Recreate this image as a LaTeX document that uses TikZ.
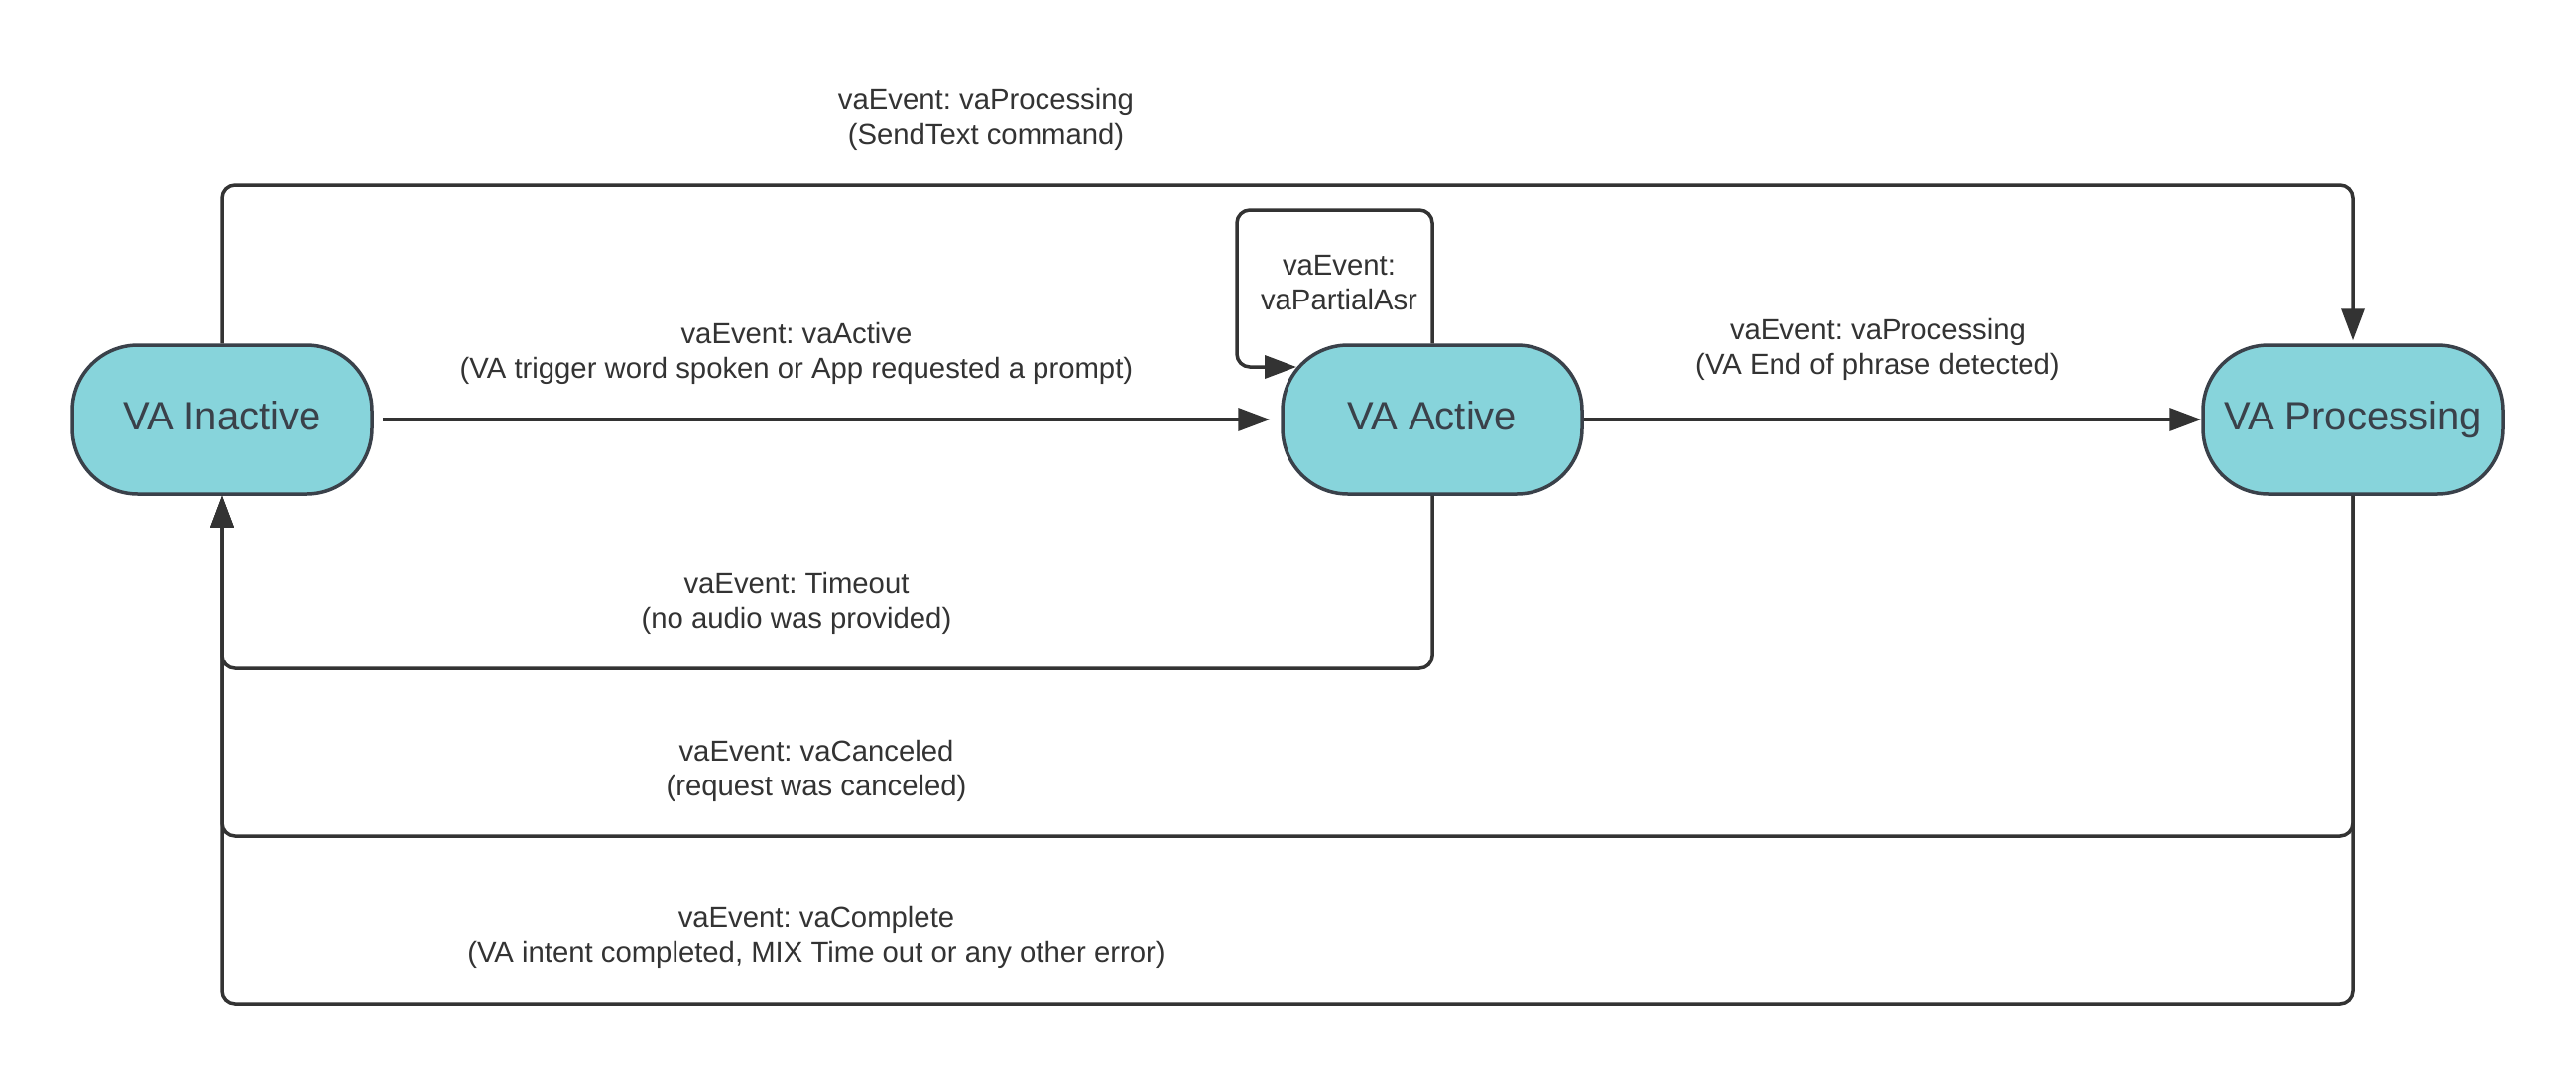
\documentclass[tikz,border=0pt]{standalone}
\usepackage{fontspec}
\setmainfont{Liberation Sans}
\usetikzlibrary{arrows.meta}
\definecolor{nodefill}{HTML}{87D4DB}
\definecolor{nodeline}{HTML}{3A414A}
\definecolor{wire}{HTML}{333333}
\definecolor{ink}{HTML}{333333}
\frenchspacing
\tikzset{
  state/.style={draw=nodeline, fill=nodefill, line width=3.5pt, rectangle, rounded corners=66pt,
    minimum width=302pt, minimum height=150pt, inner sep=0pt, text=nodeline,
    font=\fontsize{40}{48}\selectfont, text height=29pt, text depth=8pt},
  conn/.style={draw=wire, line width=3.5pt, rounded corners=13pt,
    -{Triangle[length=32pt,width=23pt]}},
  lbl/.style={align=center, text=ink, font=\fontsize{29.3}{35}\selectfont, inner sep=0pt}
}
\begin{document}
\begin{tikzpicture}[x=1pt,y=-1pt]
\useasboundingbox (0,0) rectangle (2597,1088);
\fill[white] (0,0) rectangle (2597,1088);
\node[state] (inact) at (224,423) {VA Inactive};
\node[state] (act) at (1444,423) {VA Active};
\node[state] (proc) at (2372,423) {VA Processing};

\coordinate (toprow) at (0,187);
\coordinate (loopTL) at (1247,212);
\coordinate (loopin) at (1307,370);
\coordinate (tmo) at (0,674);
\coordinate (cnc) at (0,843);
\coordinate (cmp) at (0,1012);

% top: Inactive -> Processing
\draw[conn, shorten >=3pt] (inact.north) -- (inact.north |- toprow) -- (proc.north |- toprow) -- (proc.north);
% Inactive -> Active
\draw[conn, shorten <=9pt, shorten >=11pt] (inact.east) -- (act.west);
% self loop
\draw[conn] (act.north) -- (act.north |- loopTL) -- (loopTL) -- (loopTL |- loopin) -- (loopin);
% Active -> Processing
\draw[conn] (act.east) -- (proc.west);
% Timeout
\draw[conn] (act.south) -- (act.south |- tmo) -- (inact.south |- tmo) -- (inact.south);
% Canceled
\draw[conn] (proc.south) -- (proc.south |- cnc) -- (inact.south |- cnc) -- (inact.south);
% Complete
\draw[conn] (proc.south) -- (proc.south |- cmp) -- (inact.south |- cmp) -- (inact.south);

\node[lbl] (l1) at (994,120) {vaEvent: vaProcessing\\(SendText command)};
\node[lbl] (l2) at (803,356) {vaEvent: vaActive\\(VA trigger word spoken or App requested a prompt)};
\node[lbl] (l3) at (1893,352) {vaEvent: vaProcessing\\(VA End of phrase detected)};
\node[lbl] (l4) at (1350,285) {vaEvent:\\vaPartialAsr};
\node[lbl] (l5) at (803,608) {vaEvent: Timeout\\(no audio was provided)};
\node[lbl] (l6) at (823,777) {vaEvent: vaCanceled\\(request was canceled)};
\node[lbl] (l7) at (823,945) {vaEvent: vaComplete\\(VA intent completed, MIX Time out or any other error)};
\end{tikzpicture}
\end{document}
